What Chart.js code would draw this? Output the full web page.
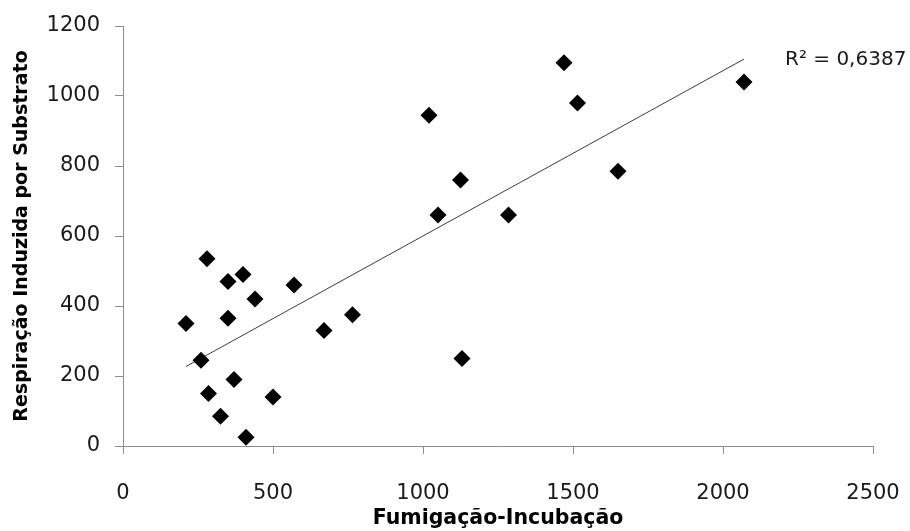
<!DOCTYPE html>
<html>
<head>
<meta charset="utf-8">
<script src="https://cdn.jsdelivr.net/npm/chart.js@4.4.0/dist/chart.umd.min.js"></script>
<style>
  html, body { margin: 0; padding: 0; background: #fff; }
  #wrap { width: 910px; height: 531px; position: relative; }
</style>
</head>
<body>
<div id="wrap"><canvas id="scatterChart"></canvas></div>
<script>
// values
var fumigacao = [210, 280, 260, 285, 325, 350, 350, 370, 400, 410, 440, 500, 570, 670, 765, 1020, 1050, 1125, 1130, 1285, 1470, 1515, 1650, 2070];
var respiracao = [350, 535, 245, 150, 85, 470, 365, 190, 490, 25, 420, 140, 460, 330, 375, 945, 660, 760, 250, 660, 1095, 980, 785, 1040];
var xTicks = [0, 500, 1000, 1500, 2000, 2500];
var yTicks = [0, 200, 400, 600, 800, 1000, 1200];
var r2Label = 'R² = 0,6387';

var points = fumigacao.map(function(x, i) {
    return { x: x, y: respiracao[i] };
});

// linear trend line by least squares
var n = points.length;
var sx = 0, sy = 0, sxx = 0, sxy = 0;
points.forEach(function(p) {
    sx += p.x; sy += p.y; sxx += p.x * p.x; sxy += p.x * p.y;
});
var slope = (n * sxy - sx * sy) / (n * sxx - sx * sx);
var intercept = (sy - slope * sx) / n;
var xMin = Math.min.apply(null, fumigacao);
var xMax = Math.max.apply(null, fumigacao);
var trend = [
    { x: xMin, y: intercept + slope * xMin },
    { x: xMax, y: intercept + slope * xMax }
];

var axisGray = '#8c8c8c';
var font = "'DejaVu Sans', sans-serif";

var r2Plugin = {
    id: 'r2Label',
    afterDatasetsDraw: function(chart) {
        var ctx = chart.ctx;
        var last = trend[1];
        var px = chart.scales.x.getPixelForValue(last.x);
        var py = chart.scales.y.getPixelForValue(last.y);
        ctx.save();
        ctx.fillStyle = '#1a1a1a';
        ctx.font = '20px ' + font;
        ctx.textBaseline = 'middle';
        ctx.textAlign = 'left';
        ctx.fillText(r2Label, px + 41, py + 1);
        ctx.restore();
    }
};

new Chart(document.getElementById('scatterChart'), {
    type: 'scatter',
    data: {
        datasets: [{
            label: 'Pontos',
            data: points,
            pointStyle: 'rectRot',
            pointRadius: 8.5,
            pointHoverRadius: 8.5,
            backgroundColor: '#000',
            borderColor: '#000',
            borderWidth: 0
        }, {
            label: 'Tendência',
            type: 'line',
            data: trend,
            borderColor: '#3c3c3c',
            borderWidth: 1,
            pointRadius: 0,
            fill: false
        }]
    },
    options: {
        responsive: true,
        maintainAspectRatio: false,
        animation: false,
        layout: { padding: { top: 26, right: 37, left: 0, bottom: 0 } },
        plugins: {
            legend: { display: false },
            tooltip: { enabled: false }
        },
        scales: {
            x: {
                type: 'linear',
                min: 0,
                max: 2500,
                afterBuildTicks: function(axis) {
                    axis.ticks = xTicks.map(function(v) { return { value: v }; });
                },
                afterFit: function(axis) {
                    axis.height = 85;
                    axis.paddingLeft = 0;
                    axis.paddingRight = 0;
                },
                border: { color: axisGray, width: 1 },
                grid: { drawOnChartArea: false, color: axisGray, tickLength: 8 },
                ticks: {
                    color: '#1a1a1a',
                    font: { family: font, size: 21 },
                    padding: 27,
                    maxRotation: 0,
                    callback: function(v) { return String(v); }
                },
                title: {
                    display: true,
                    text: 'Fumigação-Incubação',
                    color: '#000',
                    font: { family: font, size: 20.5, weight: 'bold' },
                    padding: { top: 0, bottom: 0 }
                }
            },
            y: {
                type: 'linear',
                min: 0,
                max: 1200,
                afterBuildTicks: function(axis) {
                    axis.ticks = yTicks.map(function(v) { return { value: v }; });
                },
                afterFit: function(axis) {
                    axis.width = 123;
                    axis.paddingTop = 0;
                    axis.paddingBottom = 0;
                },
                border: { color: axisGray, width: 1 },
                grid: { drawOnChartArea: false, color: axisGray, tickLength: 8 },
                ticks: {
                    color: '#1a1a1a',
                    font: { family: font, size: 21 },
                    padding: 15,
                    callback: function(v) { return String(v); }
                },
                title: {
                    display: true,
                    text: 'Respiração Induzida por Substrato',
                    color: '#000',
                    font: { family: font, size: 19, weight: 'bold' },
                    padding: { top: 11, bottom: 0 }
                }
            }
        }
    },
    plugins: [r2Plugin]
});
</script>
</body>
</html>
